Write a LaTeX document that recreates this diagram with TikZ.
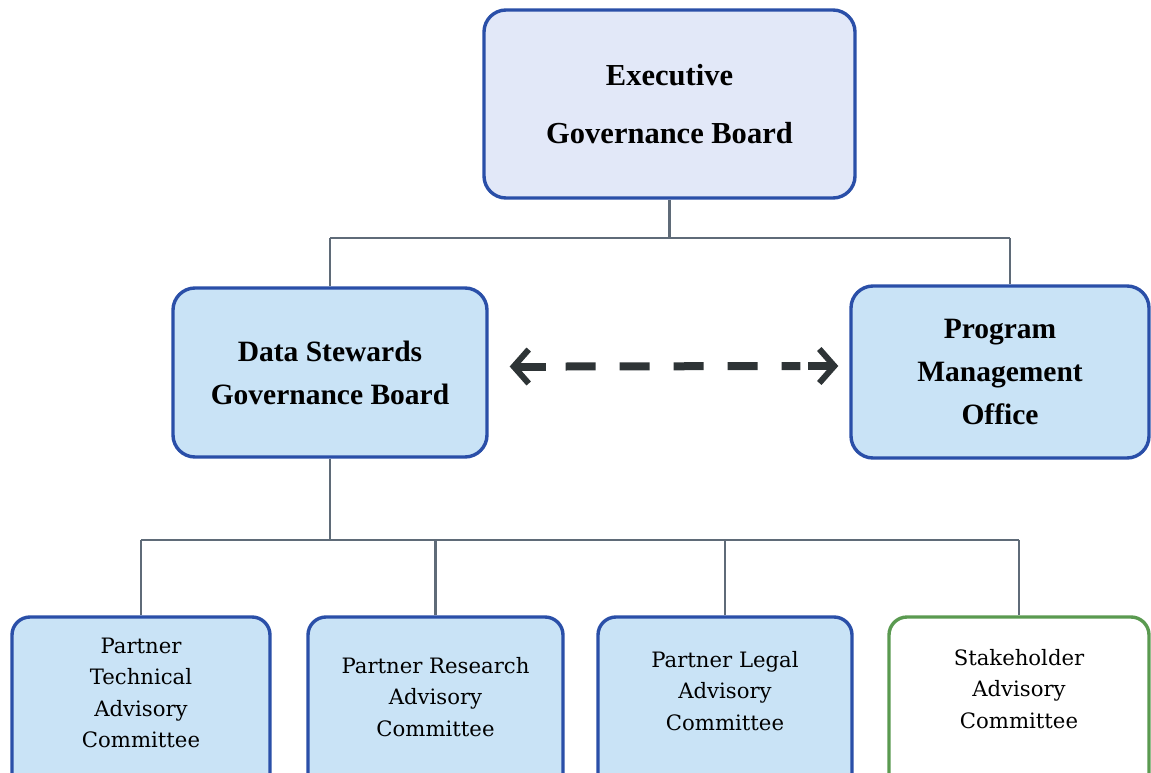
\documentclass[tikz,border=0pt]{standalone}
\usepackage{fontspec}
\setmainfont{Liberation Serif}
\newfontfamily\slabfont{DejaVu Serif}
\usetikzlibrary{arrows.meta}
\definecolor{bblue}{HTML}{2A4FA8}
\definecolor{lav}{HTML}{E2E8F8}
\definecolor{sky}{HTML}{C9E3F6}
\definecolor{gline}{HTML}{5F6B78}
\definecolor{ggreen}{HTML}{5A9A50}
\definecolor{darr}{HTML}{2E3436}
\tikzset{
  topbox/.style={draw=bblue, line width=3.4pt, rounded corners=22pt, fill=sky, align=center, font=\bfseries\fontsize{29.5}{43}\selectfont, inner sep=0pt},
  lowbox/.style={draw=bblue, line width=3.4pt, rounded corners=18pt, fill=sky, inner sep=0pt},
  lowtext/.style={font=\slabfont\fontsize{21.2}{31.5}\selectfont, align=center, inner sep=0pt},
  conn/.style={draw=gline, line width=2.2pt},
  arrbody/.style={draw=darr, line width=8pt},
  arrtip/.style={draw=darr, line width=8pt, -{Straight Barb[length=15pt,width=34pt,line width=6pt]}},
}
\begin{document}
\begin{tikzpicture}[x=1pt,y=-1pt]
\useasboundingbox (0,0) rectangle (1151,773);
\clip (0,0) rectangle (1151,773);
% nodes
\node[topbox, fill=lav, minimum width=371pt, minimum height=188pt, font=\bfseries\fontsize{30.5}{58}\selectfont] (exec) at (669.5,104) {Executive\\Governance Board};
\node[topbox, minimum width=314pt, minimum height=169pt] (dsgb) at (330,372.5) {Data Stewards\\Governance Board};
\node[topbox, minimum width=298pt, minimum height=172pt] (pmo) at (1000,372) {Program\\Management\\Office};
\node[lowbox, minimum width=258pt, minimum height=180pt] (ptac) at (141,707) {};
\node[lowtext] (ptact) at (141,693) {Partner\\Technical\\Advisory\\Committee};
\node[lowbox, minimum width=255pt, minimum height=180pt] (prac) at (435.5,707) {};
\node[lowtext] (pract) at (435.5,697) {Partner Research\\Advisory\\Committee};
\node[lowbox, minimum width=254pt, minimum height=180pt] (plac) at (725,707) {};
\node[lowtext] (plact) at (725,691) {Partner Legal\\Advisory\\Committee};
\node[lowbox, draw=ggreen, fill=white, minimum width=260pt, minimum height=180pt] (sac) at (1019,707) {};
\node[lowtext] (sact) at (1019,689) {Stakeholder\\Advisory\\Committee};
% junction coordinates
\coordinate (j1) at (669.5,238);
\coordinate (j1l) at (330,238);
\coordinate (j1r) at (1010,238);
\coordinate (j2) at (330,540);
\coordinate (b1) at (141,540);
\coordinate (b2) at (435.5,540);
\coordinate (b3) at (725,540);
\coordinate (b4) at (1019,540);
% arrow coordinates
\coordinate (al) at ([xshift=21pt,yshift=6pt]dsgb.east);
\coordinate (ar) at ([xshift=-11pt,yshift=6pt]pmo.west);
\coordinate (al1) at ([xshift=36pt]al);
\coordinate (ar1) at ([xshift=-30pt]ar);
\coordinate (d1) at ([xshift=56pt]al);
\coordinate (d2) at ([xshift=-38pt]ar);
% connectors
\draw[conn] (exec.south) -- (j1);
\draw[conn] (j1l) -- (j1r);
\draw[conn] (j1l) -- (dsgb.north);
\draw[conn] (j1r) -- (j1r |- pmo.north);
\draw[conn] (dsgb.south) -- (j2);
\draw[conn] (b1) -- (b4);
\draw[conn] (b1) -- (ptac.north);
\draw[conn] (b2) -- (prac.north);
\draw[conn] (b3) -- (plac.north);
\draw[conn] (b4) -- (sac.north);
% dashed double arrow
\draw[arrtip] (al1) -- (al);
\draw[arrtip] (ar1) -- (ar);
\draw[arrbody, dash pattern=on 30pt off 24pt] (d1) -- (d2);
\end{tikzpicture}
\end{document}
